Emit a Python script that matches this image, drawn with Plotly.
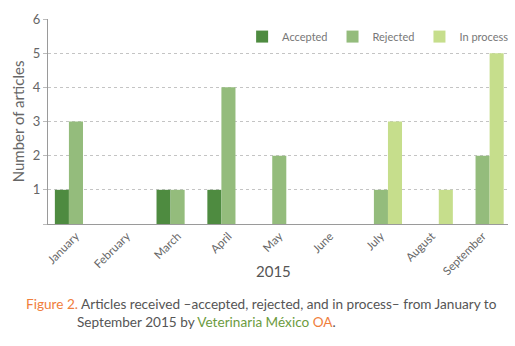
import plotly.graph_objects as go

months = ["January", "February", "March", "April", "May", "June", "July", "August", "September"]
accepted = [1, 0, 1, 1, 0, 0, 0, 0, 0]
rejected = [3, 0, 1, 4, 2, 0, 1, 0, 2]
in_process = [0, 0, 0, 0, 0, 0, 3, 1, 5]
y_tick_vals = [0, 1, 2, 3, 4, 5, 6]
y_tick_text = ["", "1", "2", "3", "4", "5", "6"]

FONT = "Lato"
GREY = "#777777"

fig = go.Figure()
fig.add_bar(x=months, y=accepted, name="Accepted", marker=dict(color="#4E8B40", line=dict(width=0)))
fig.add_bar(x=months, y=rejected, name="Rejected", marker=dict(color="#94BC7C", line=dict(width=0)))
fig.add_bar(x=months, y=in_process, name="In process", marker=dict(color="#C6DE8C", line=dict(width=0)))

fig.update_layout(
    width=515, height=346,
    margin=dict(l=48, r=7, t=19, b=122, autoexpand=False),
    paper_bgcolor="white", plot_bgcolor="white",
    barmode="group", bargap=0.17, bargroupgap=0,
    font=dict(family=FONT, color=GREY, size=11),
    showlegend=True,
    legend=dict(orientation="h", x=0.422, y=0.985, xanchor="left", yanchor="top",
                font=dict(size=11, color="#777777"), bgcolor="rgba(0,0,0,0)",
                itemwidth=30, tracegroupgap=0, traceorder="normal"),
    xaxis=dict(range=[-0.55, 8.5], tickangle=-45, showline=True, linecolor="#9a9a9a",
               linewidth=1, ticks="", showgrid=False, automargin=False,
               tickfont=dict(size=11.5, color="#666666")),
    yaxis=dict(range=[0, 6], tickvals=y_tick_vals, ticktext=y_tick_text, showline=True,
               linecolor="#9a9a9a", linewidth=1,
               ticks="outside", ticklen=4, tickcolor="#bbbbbb", gridcolor="#c4c4c4",
               griddash="dot", gridwidth=1, zeroline=False, automargin=False,
               tickfont=dict(size=13, color="#666666"),
               title=dict(text="Number of articles", font=dict(size=15, color="#666666"), standoff=4)),
)

fig.add_annotation(text="2015", xref="paper", yref="paper", x=0.49, y=0, yanchor="middle",
                   yshift=-47, showarrow=False, font=dict(size=15, color="#555555"))
fig.add_annotation(
    text="<span style='color:#F07E3C'>Figure 2.</span> Articles received \u2013accepted, rejected, and in process\u2013 from January to",
    xref="paper", yref="paper", x=-0.052, xanchor="left", align="left", y=0, yanchor="middle", yshift=-80,
    showarrow=False, font=dict(size=13.6, color="#555555"))
fig.add_annotation(
    text="September 2015 by <span style='color:#6C9B3E'>Veterinaria México</span> <span style='color:#F07E3C'>OA</span>.",
    xref="paper", yref="paper", x=0.0587, xanchor="left", align="left", y=0, yanchor="middle", yshift=-98,
    showarrow=False, font=dict(size=13.6, color="#555555"))

fig.write_html("out.html", config={"displayModeBar": False},
               post_script="document.body.style.margin='0';document.body.style.overflow='hidden';")
